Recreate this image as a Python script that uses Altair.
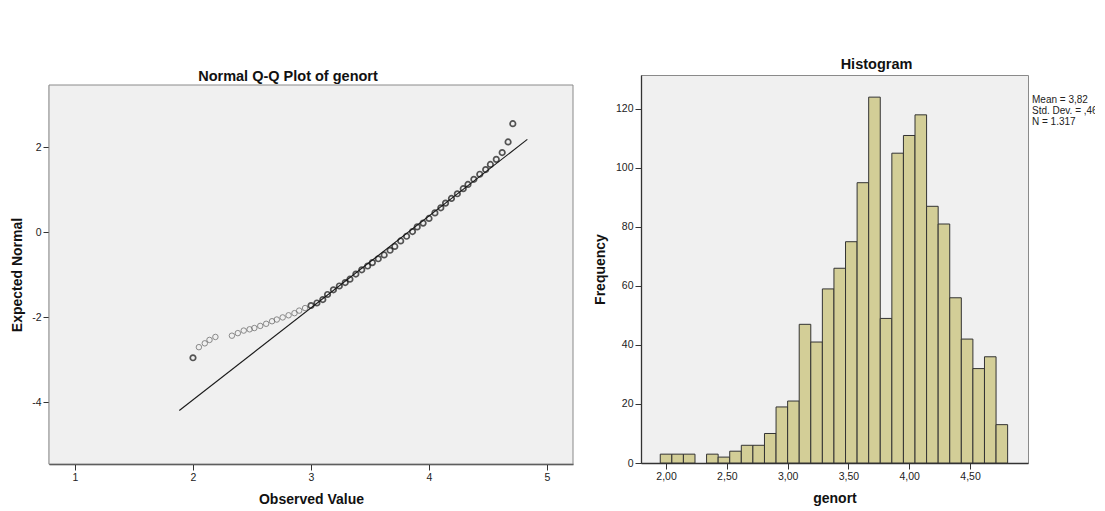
import altair as alt
import pandas as pd

FONT = "Liberation Sans"

# ---- Q-Q plot data (observed value, expected normal) ----
qq_observed = [2.00, 2.05, 2.10, 2.14, 2.19,
               2.33, 2.38, 2.43, 2.48, 2.52, 2.57, 2.62, 2.67, 2.71, 2.76,
               2.81, 2.86, 2.90, 2.95, 3.00, 3.05, 3.10, 3.14, 3.19, 3.24,
               3.29, 3.33, 3.38, 3.43, 3.48, 3.52, 3.57, 3.62, 3.67, 3.71,
               3.76, 3.81, 3.86, 3.90, 3.95, 4.00, 4.05, 4.10, 4.14, 4.19,
               4.24, 4.29, 4.33, 4.38, 4.43, 4.48, 4.52, 4.57, 4.62, 4.67,
               4.71]
qq_expected = [-2.95, -2.70, -2.61, -2.53, -2.46,
               -2.43, -2.37, -2.31, -2.28, -2.25, -2.20, -2.15, -2.09, -2.05, -2.00,
               -1.95, -1.90, -1.84, -1.78, -1.72, -1.66, -1.58, -1.46, -1.35, -1.26,
               -1.18, -1.10, -0.98, -0.88, -0.79, -0.71, -0.62, -0.53, -0.42, -0.33,
               -0.20, -0.09, 0.02, 0.13, 0.22, 0.33, 0.46, 0.58, 0.69, 0.80,
               0.91, 1.03, 1.13, 1.25, 1.37, 1.48, 1.60, 1.72, 1.88, 2.13,
               2.56]
# reference line end points
line_observed = [1.884, 4.833]
line_expected = [-4.19, 2.19]

# ---- Histogram data ----
hist_counts = [3, 3, 3, 0, 3, 2, 4, 6, 6, 10,
               19, 21, 47, 41, 59, 66, 75, 95, 124, 49,
               105, 111, 118, 87, 81, 56, 42, 32, 36, 13]
bin_first_edge = 41 / 21
bin_width = 2 / 21
hist_ticks = [2.0, 2.5, 3.0, 3.5, 4.0, 4.5]
stats_lines = ["Mean = 3,82", "Std. Dev. = ,461", "N = 1.317"]

edges = [bin_first_edge + i * bin_width for i in range(len(hist_counts) + 1)]
hist_df = pd.DataFrame({"start": edges[:-1], "end": edges[1:], "count": hist_counts})
qq_df = pd.DataFrame({"obs": qq_observed, "exp": qq_expected})
line_df = pd.DataFrame({"obs": line_observed, "exp": line_expected})
stats_df = pd.DataFrame({"stats": ["\n".join(stats_lines)]})
frame_df = pd.DataFrame({"f": [0]})

# ---- layout sizes ----
QQ_W, QQ_H, QQ_TOP = 524, 389, 10   # Q-Q frame starts 10px below the histogram's
H_W, H_H = 387, 388

# ---- Q-Q chart ----
qx = alt.Scale(domain=[0.78, 5.22], nice=False, zero=False)
qy = alt.Scale(domain=[-5.45, 3.47], nice=False, zero=False, range=[QQ_H, QQ_TOP])
light = (alt.datum.obs > 2.01) & (alt.datum.obs < 2.99)

qq_frame = alt.Chart(frame_df).mark_rect(
    fill="#F0F0F0", stroke="#8a8a8a", strokeWidth=1
).encode(
    x=alt.value(0), x2=alt.value(QQ_W), y=alt.value(QQ_TOP), y2=alt.value(QQ_H)
)
qq_line = alt.Chart(line_df).mark_line(color="#1a1a1a", strokeWidth=1.1).encode(
    x=alt.X("obs:Q", scale=qx,
            axis=alt.Axis(values=[1, 2, 3, 4, 5], title="Observed Value",
                          labelExpr="'' + datum.value")),
    y=alt.Y("exp:Q", scale=qy,
            axis=alt.Axis(values=[-4, -2, 0, 2], title="Expected Normal",
                          titlePadding=7, labelExpr="'' + datum.value")),
)
qq_points = alt.Chart(qq_df).mark_point(shape="circle", filled=False, size=30).encode(
    x="obs:Q",
    y="exp:Q",
    stroke=alt.condition(light, alt.value("#5e5e5e"), alt.value("#111111")),
    strokeWidth=alt.condition(light, alt.value(1.0), alt.value(1.7)),
)
qq = alt.layer(qq_frame, qq_line, qq_points).properties(
    width=QQ_W, height=QQ_H,
    view=alt.ViewBackground(fill="transparent", stroke="transparent"),
    title=alt.TitleParams("Normal Q-Q Plot of genort", offset=-9,
                          frame="group", dx=-23),
)

# ---- Histogram chart ----
hx = alt.Scale(domain=[1.794, 4.977], nice=False, zero=False)
hy = alt.Scale(domain=[0, 131.5], nice=False)
bars = alt.Chart(hist_df).transform_filter(alt.datum["count"] > 0).mark_rect(
    fill="#D3CE97", stroke="#333333", strokeWidth=1
).encode(
    x=alt.X("start:Q", scale=hx,
            axis=alt.Axis(values=hist_ticks, title="genort",
                          labelExpr="replace(format(datum.value, '.2f'), '.', ',')")),
    x2="end:Q",
    y=alt.Y("count:Q", scale=hy,
            axis=alt.Axis(values=[0, 20, 40, 60, 80, 100, 120], title="Frequency",
                          titlePadding=8)),
    y2=alt.datum(0),
)
stats = alt.Chart(stats_df).mark_text(
    align="left", baseline="top", lineBreak="\n", lineHeight=11,
    fontSize=10, color="#222222", font=FONT,
).encode(text="stats:N", x=alt.value(391), y=alt.value(20))
hist = alt.layer(bars, stats).properties(
    width=H_W, height=H_H,
    title=alt.TitleParams("Histogram", offset=3, frame="group", dx=42),
)

# the right padding is negative so that, as in the reference, the stats text
# is cut at the picture's right edge instead of widening the page
chart = alt.hconcat(qq, hist, spacing=18).properties(
    padding={"left": 2, "top": 48, "right": -9, "bottom": 0},
    background="white",
).configure(font=FONT).configure_view(
    fill="#F0F0F0", stroke="#8a8a8a", strokeWidth=1
).configure_axis(
    grid=False, domainColor="#333333", domainWidth=1.3, tickColor="#333333",
    tickSize=6, tickWidth=1, labelFont=FONT, labelFontSize=10.5, labelColor="#222222",
    labelPadding=2, titleFont=FONT, titleFontSize=14, titleFontWeight="bold",
    titleColor="#111111", titlePadding=10, zindex=1,
).configure_title(
    font=FONT, fontSize=14.5, fontWeight="bold", anchor="middle",
    color="#111111",
)

chart.save("out.html", embed_options={"renderer": "svg", "actions": False})
